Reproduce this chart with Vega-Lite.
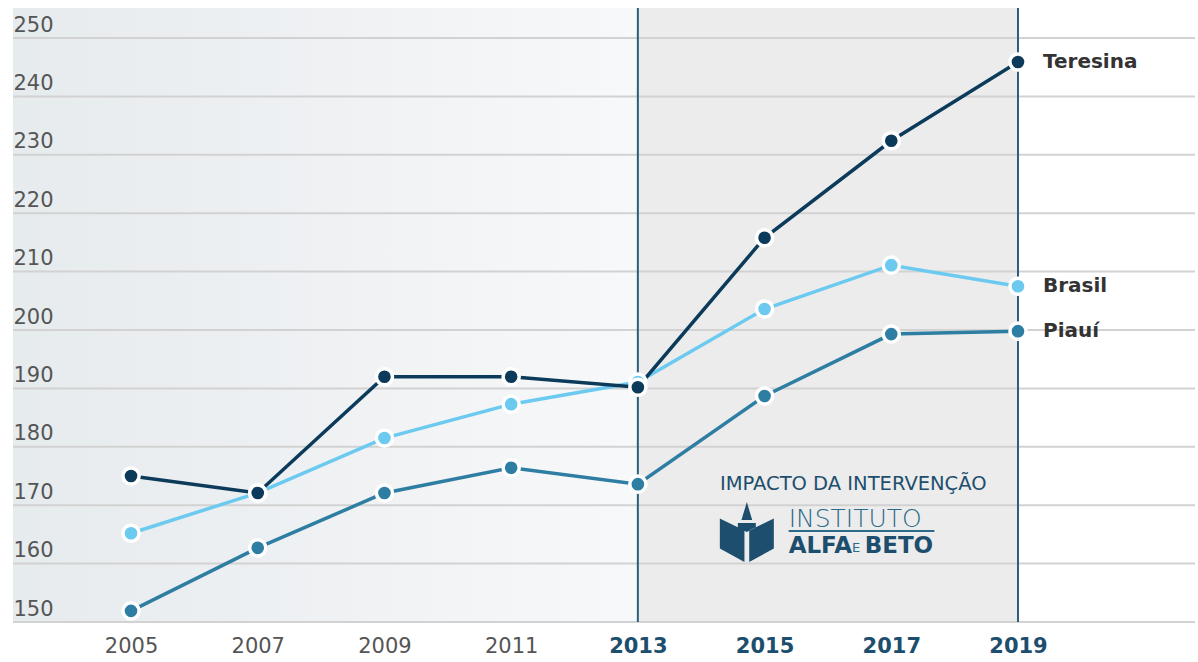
{
  "$schema": "https://vega.github.io/schema/vega-lite/v6.json",
  "width": 1182,
  "height": 614,
  "autosize": "none",
  "padding": {"left": 13, "top": 8, "right": 3, "bottom": 40},
  "background": "#ffffff",
  "config": {"view": {"stroke": null}, "font": "DejaVu Sans"},
  "datasets": {
    "notas": [
      {"serie": "Piauí", "ano": 2005, "valor": 151.9},
      {"serie": "Piauí", "ano": 2007, "valor": 162.7},
      {"serie": "Piauí", "ano": 2009, "valor": 172.1},
      {"serie": "Piauí", "ano": 2011, "valor": 176.4},
      {"serie": "Piauí", "ano": 2013, "valor": 173.6},
      {"serie": "Piauí", "ano": 2015, "valor": 188.7},
      {"serie": "Piauí", "ano": 2017, "valor": 199.3},
      {"serie": "Piauí", "ano": 2019, "valor": 199.8},
      {"serie": "Brasil", "ano": 2005, "valor": 165.2},
      {"serie": "Brasil", "ano": 2007, "valor": 172.1},
      {"serie": "Brasil", "ano": 2009, "valor": 181.5},
      {"serie": "Brasil", "ano": 2011, "valor": 187.3},
      {"serie": "Brasil", "ano": 2013, "valor": 191.1},
      {"serie": "Brasil", "ano": 2015, "valor": 203.6},
      {"serie": "Brasil", "ano": 2017, "valor": 211.1},
      {"serie": "Brasil", "ano": 2019, "valor": 207.5},
      {"serie": "Teresina", "ano": 2005, "valor": 175.0},
      {"serie": "Teresina", "ano": 2007, "valor": 172.1},
      {"serie": "Teresina", "ano": 2009, "valor": 192.0},
      {"serie": "Teresina", "ano": 2011, "valor": 192.0},
      {"serie": "Teresina", "ano": 2013, "valor": 190.2},
      {"serie": "Teresina", "ano": 2015, "valor": 215.8},
      {"serie": "Teresina", "ano": 2017, "valor": 232.4},
      {"serie": "Teresina", "ano": 2019, "valor": 245.9}
    ],
    "grade": [
      {"v": 150}, {"v": 160}, {"v": 170}, {"v": 180}, {"v": 190}, {"v": 200},
      {"v": 210}, {"v": 220}, {"v": 230}, {"v": 240}, {"v": 250}
    ],
    "um": [{}]
  },
  "data": {"name": "notas"},
  "layer": [
    {
      "data": {"name": "um"},
      "mark": {"type": "rect", "color": {"gradient": "linear", "x1": 0, "x2": 1, "y1": 0, "y2": 0, "stops": [
        {"offset": 0, "color": "#e6ebee"},
        {"offset": 0.3, "color": "#f0f2f4"},
        {"offset": 0.55, "color": "#f8f9fa"},
        {"offset": 0.8, "color": "#ffffff"},
        {"offset": 1, "color": "#ffffff"}
      ]}},
      "encoding": {
        "x": {"datum": 2003.137, "type": "quantitative", "scale": {"domain": [2003.137, 2021.794], "nice": false, "zero": false}},
        "x2": {"datum": 2021.794}
      }
    },
    {
      "data": {"name": "um"},
      "mark": {"type": "rect", "color": "#ececec"},
      "encoding": {
        "x": {"datum": 2013, "type": "quantitative"},
        "x2": {"datum": 2019}
      }
    },
    {
      "data": {"name": "grade"},
      "mark": {"type": "rule", "color": "#d2d2d2", "strokeWidth": 2},
      "encoding": {
        "y": {"field": "v", "type": "quantitative"}
      }
    },
    {
      "data": {"name": "um"},
      "mark": {"type": "rule", "color": "#2a5f7f", "strokeWidth": 2},
      "encoding": {"x": {"datum": 2013, "type": "quantitative"}}
    },
    {
      "data": {"name": "um"},
      "mark": {"type": "rule", "color": "#2a5f7f", "strokeWidth": 2},
      "encoding": {"x": {"datum": 2019, "type": "quantitative"}}
    },
    {
      "mark": {"type": "line", "strokeWidth": 3.5},
      "encoding": {
        "x": {
          "field": "ano", "type": "quantitative",
          "scale": {"domain": [2003.137, 2021.794], "nice": false, "zero": false},
          "axis": {
            "title": null, "values": [2005, 2007, 2009, 2011, 2013, 2015, 2017, 2019],
            "format": "d", "domain": false, "ticks": false, "tickSize": 0, "grid": false,
            "labelPadding": 13, "labelFontSize": 21, "labelFont": "DejaVu Sans",
            "labelColor": {"condition": {"test": "datum.value >= 2013", "value": "#1d4e6e"}, "value": "#555555"},
            "labelFontWeight": {"condition": {"test": "datum.value >= 2013", "value": "bold"}, "value": "normal"}
          }
        },
        "y": {
          "field": "valor", "type": "quantitative",
          "scale": {"domain": [150, 255.14], "nice": false, "zero": false},
          "axis": {
            "title": null, "values": [150, 160, 170, 180, 190, 200, 210, 220, 230, 240, 250],
            "domain": false, "ticks": false, "tickSize": 0, "grid": false, "zindex": 1,
            "labelAlign": "left", "labelBaseline": "alphabetic", "labelPadding": 0, "labelOffset": -7,
            "labelFontSize": 21, "labelColor": "#555555", "labelFont": "DejaVu Sans"
          }
        },
        "color": {
          "field": "serie", "type": "nominal", "legend": null,
          "scale": {"domain": ["Piauí", "Brasil", "Teresina"], "range": ["#2e7ea3", "#6ccaf0", "#0b3a5a"]}
        }
      }
    },
    {
      "mark": {"type": "point", "filled": true, "opacity": 1, "size": 260, "stroke": "#ffffff", "strokeWidth": 3.5, "strokeOpacity": 1},
      "encoding": {
        "x": {"field": "ano", "type": "quantitative"},
        "y": {"field": "valor", "type": "quantitative"},
        "fill": {"field": "serie", "type": "nominal", "legend": null,
          "scale": {"domain": ["Piauí", "Brasil", "Teresina"], "range": ["#2e7ea3", "#6ccaf0", "#0b3a5a"]}}
      }
    },
    {
      "transform": [{"filter": "datum.ano == 2019"}],
      "mark": {"type": "text", "align": "left", "baseline": "middle", "dx": 25, "fontSize": 20, "fontWeight": "bold", "color": "#333333", "font": "DejaVu Sans"},
      "encoding": {
        "x": {"field": "ano", "type": "quantitative"},
        "y": {"field": "valor", "type": "quantitative"},
        "text": {"field": "serie"}
      }
    },
    {
      "data": {"name": "um"},
      "mark": {"type": "text", "text": "IMPACTO DA INTERVENÇÃO", "align": "center", "baseline": "middle", "fontSize": 19.5, "color": "#1d4e6e", "font": "DejaVu Sans"},
      "encoding": {"x": {"datum": 2016.4, "type": "quantitative"}, "y": {"datum": 173.6, "type": "quantitative"}}
    },
    {
      "data": {"name": "um"},
      "mark": {"type": "text", "text": "INSTITUTO", "align": "left", "baseline": "middle", "fontSize": 25, "fontWeight": 200, "color": "#2b6a8a", "font": "DejaVu Sans"},
      "encoding": {"x": {"datum": 2015.38, "type": "quantitative"}, "y": {"datum": 167.6, "type": "quantitative"}}
    },
    {
      "data": {"name": "um"},
      "mark": {"type": "rule", "color": "#2b6a8a", "strokeWidth": 2},
      "encoding": {"x": {"datum": 2015.38, "type": "quantitative"}, "x2": {"datum": 2017.68}, "y": {"datum": 165.6, "type": "quantitative"}}
    },
    {
      "data": {"name": "um"},
      "mark": {"type": "text", "text": "ALFA", "align": "left", "baseline": "middle", "fontSize": 23, "fontWeight": "bold", "color": "#1d4e6e", "font": "DejaVu Sans"},
      "encoding": {"x": {"datum": 2015.38, "type": "quantitative"}, "y": {"datum": 163.0, "type": "quantitative"}}
    },
    {
      "data": {"name": "um"},
      "mark": {"type": "text", "text": "E", "align": "left", "baseline": "middle", "fontSize": 13, "color": "#2b6a8a", "font": "DejaVu Sans"},
      "encoding": {"x": {"datum": 2016.38, "type": "quantitative"}, "y": {"datum": 162.6, "type": "quantitative"}}
    },
    {
      "data": {"name": "um"},
      "mark": {"type": "text", "text": "BETO", "align": "left", "baseline": "middle", "fontSize": 23, "fontWeight": "bold", "color": "#1d4e6e", "font": "DejaVu Sans"},
      "encoding": {"x": {"datum": 2016.58, "type": "quantitative"}, "y": {"datum": 163.0, "type": "quantitative"}}
    },
    {
      "data": {"name": "um"},
      "mark": {"type": "point", "filled": true, "opacity": 1, "color": "#1d4e6e", "size": 3600,
        "shape": "M-0.18,-0.4 L0,-1 L0.18,-0.4 Z M-0.9,-0.45 L-0.08,-0.05 L-0.08,1 L-0.9,0.55 Z M0.9,-0.45 L0.08,-0.05 L0.08,1 L0.9,0.55 Z M-0.3,-0.3 L0.3,-0.3 L0.3,-0.15 L0,0 L-0.3,-0.15 Z"},
      "encoding": {"x": {"datum": 2014.72, "type": "quantitative"}, "y": {"datum": 165.4, "type": "quantitative"}}
    }
  ]
}
